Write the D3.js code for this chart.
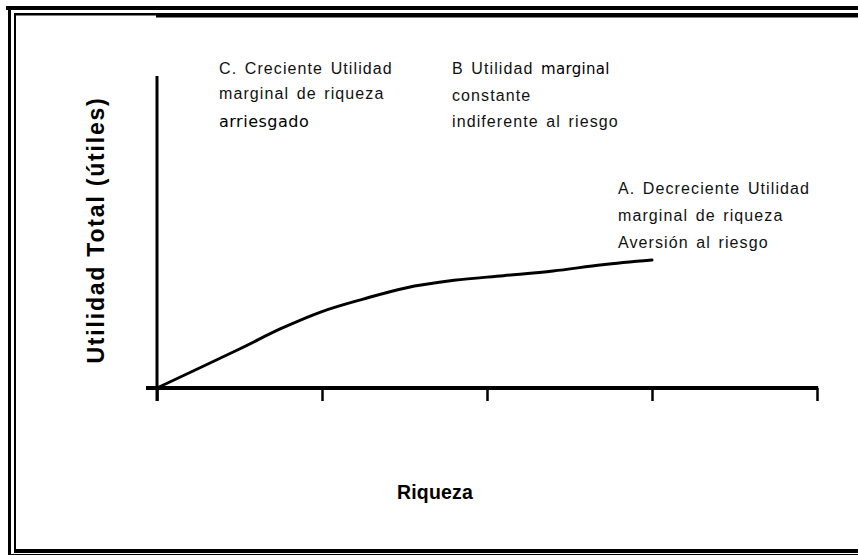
<!DOCTYPE html>
<html>
<head>
<meta charset="utf-8">
<script src="https://cdn.jsdelivr.net/npm/d3@7"></script>
<style>
  body { margin: 0; background: #fff; }
  svg { display: block; }
</style>
</head>
<body>
<script>
// wealth (riqueza) vs total utility
const riqueza  = [0, 0.5, 0.75, 1.0, 1.25, 1.5, 1.8, 2.1, 2.4, 2.7, 3.0];
const utilidad = [0, 1.25, 1.9, 2.45, 2.85, 3.2, 3.45, 3.6, 3.75, 3.95, 4.1];
const xTicks = [0, 1, 2, 3, 4];

const labelC = ["C. Creciente Utilidad", "marginal de riqueza", "arriesgado"];
const labelB = ["B Utilidad ", "constante", "indiferente al riesgo"];
const labelA = ["A. Decreciente Utilidad", "marginal de riqueza", "Aversión al riesgo"];

const W = 858, H = 555;
const svg = d3.select("body").append("svg").attr("width", W).attr("height", H);

// frame (double rule, open on the right)
const frame = svg.append("g").attr("fill", "#000");
frame.append("rect").attr("x", 6).attr("y", 6).attr("width", W - 6).attr("height", 4);
frame.append("rect").attr("x", 14).attr("y", 13).attr("width", 142).attr("height", 2.5);
frame.append("rect").attr("x", 156).attr("y", 13).attr("width", W - 156).attr("height", 4.5);
frame.append("rect").attr("x", 8).attr("y", 6).attr("width", 3).attr("height", H - 6);
frame.append("rect").attr("x", 14).attr("y", 13).attr("width", 2).attr("height", 539);
frame.append("rect").attr("x", 14).attr("y", 549).attr("width", W - 14).attr("height", 4);
frame.append("rect").attr("x", 8).attr("y", 554).attr("width", W - 8).attr("height", 1);

const x = d3.scaleLinear().domain([0, 4]).range([157, 817]);
const y = d3.scaleLinear().domain([0, 10]).range([388, 76]);

// x axis: ticks hang below, line runs a bit past the origin
const xAxis = svg.append("g")
    .attr("transform", `translate(0, ${y(0)})`)
    .call(d3.axisBottom(x).tickValues(xTicks).tickSize(13).tickSizeOuter(0).tickFormat(""));
xAxis.select(".domain").remove();
xAxis.selectAll(".tick line").attr("stroke", "#000").attr("stroke-width", 2.5);
svg.append("line")
    .attr("x1", x(0) - 11).attr("x2", x(4) + 1.2)
    .attr("y1", y(0)).attr("y2", y(0))
    .attr("stroke", "#000").attr("stroke-width", 4);

// y axis: plain vertical rule
svg.append("line")
    .attr("x1", x(0)).attr("x2", x(0))
    .attr("y1", y(0) + 13).attr("y2", y(10))
    .attr("stroke", "#000").attr("stroke-width", 3);

// utility curve
const line = d3.line()
    .x((d, i) => x(riqueza[i]))
    .y(d => y(d))
    .curve(d3.curveCatmullRom);
svg.append("path")
    .datum(utilidad)
    .attr("d", line)
    .attr("fill", "none")
    .attr("stroke", "#000")
    .attr("stroke-width", 3)
    .attr("stroke-linecap", "round");

// annotation blocks
function block(lines, x0, ys) {
    const g = svg.append("g")
        .style("font-family", "'Liberation Sans', Arial, sans-serif")
        .style("font-size", "16px")
        .style("letter-spacing", "1.1px")
        .style("word-spacing", "2px")
        .attr("fill", "#111");
    return lines.map((t, i) => g.append("text").attr("x", x0).attr("y", ys[i]).text(t));
}
const c = block(labelC, 219, [74, 99, 127]);
c[2].text("").append("tspan")
    .style("font-family", "'DejaVu Sans', sans-serif")
    .style("font-size", "16px")
    .style("letter-spacing", "0.5px")
    .attr("fill", "#000")
    .text(labelC[2]);
const b = block(labelB, 452, [74, 101, 127]);
b[0].append("tspan")
    .style("font-family", "'DejaVu Sans', sans-serif")
    .style("font-size", "15px")
    .style("letter-spacing", "0.3px")
    .attr("fill", "#000")
    .text("marginal");
block(labelA, 618, [194, 221, 248]);

// axis titles
svg.append("text")
    .attr("transform", `translate(104, 230) rotate(-90)`)
    .attr("text-anchor", "middle")
    .style("font-family", "'Liberation Sans', Arial, sans-serif")
    .style("font-weight", "bold")
    .style("font-size", "23px")
    .style("letter-spacing", "1.8px")
    .text("Utilidad Total (útiles)");

svg.append("text")
    .attr("x", 435).attr("y", 499)
    .attr("text-anchor", "middle")
    .style("font-family", "'Liberation Sans', Arial, sans-serif")
    .style("font-weight", "bold")
    .style("font-size", "19.5px")
    .style("letter-spacing", "0.2px")
    .text("Riqueza");
</script>
</body>
</html>
